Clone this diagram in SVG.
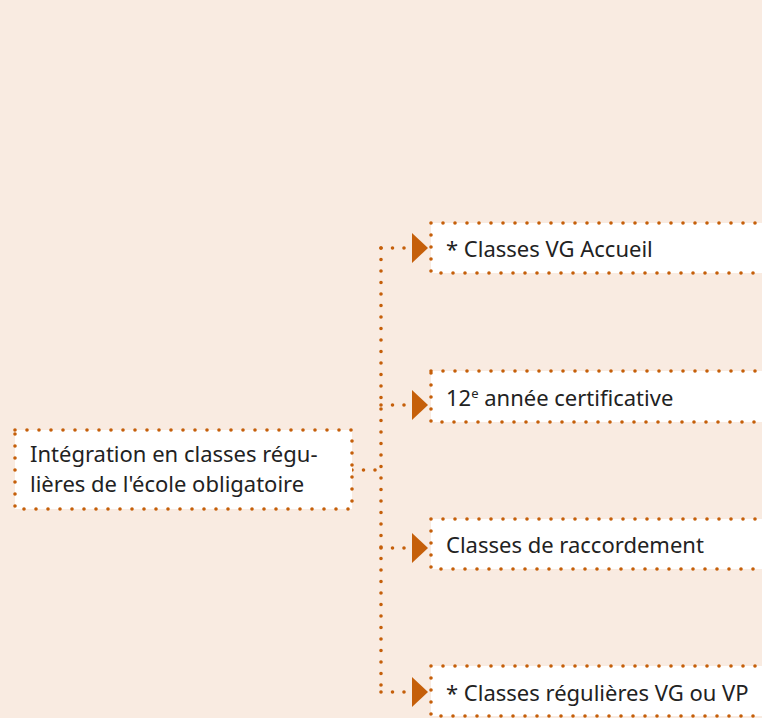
<svg xmlns="http://www.w3.org/2000/svg" width="762" height="718" viewBox="0 0 762 718">
<defs>
<style>
.box{fill:#ffffff;stroke:#c55f0a;stroke-width:3.6;stroke-dasharray:0 12;stroke-linecap:round}
.con{fill:none;stroke:#c55f0a;stroke-width:3.6;stroke-dasharray:0 11.5;stroke-linecap:round}
.t{font-family:"Noto Sans","Open Sans","Liberation Sans",sans-serif;font-size:22px;font-weight:400;fill:#222222}
.sup{font-size:13px}
</style>
<marker id="arr" viewBox="0 0 16 30" refX="0" refY="15" markerWidth="16" markerHeight="30" markerUnits="userSpaceOnUse" orient="auto">
<path d="M0,0 L16,15 L0,30 Z" fill="#c55f0a"/>
</marker>
</defs>
<rect x="0" y="0" width="762" height="718" fill="#f9ebe1"/>
<g id="connectors">
<path class="con" d="M352,470 L381,470"/>
<path class="con" d="M381,248 L381,692"/>
<path class="con" d="M381,248 L412,248" marker-end="url(#arr)"/>
<path class="con" d="M381,405 L412,405" marker-end="url(#arr)"/>
<path class="con" d="M381,548 L412,548" marker-end="url(#arr)"/>
<path class="con" d="M381,692 L412,692" marker-end="url(#arr)"/>
</g>
<g id="source">
<rect class="box" x="15" y="430" width="337" height="79"/>
<text class="t" x="30" y="462">Intégration en classes régu-</text>
<text class="t" x="30" y="492">lières de l'école obligatoire</text>
</g>
<g id="n1">
<rect class="box" x="431" y="223" width="340" height="50"/>
<text class="t" x="446" y="257">* Classes VG Accueil</text>
</g>
<g id="n2">
<rect class="box" x="431" y="371" width="340" height="51"/>
<text class="t" x="446" y="406">12<tspan class="sup" dy="-8">e</tspan><tspan dy="8"> année certificative</tspan></text>
</g>
<g id="n3">
<rect class="box" x="431" y="519" width="340" height="50"/>
<text class="t" x="446" y="553">Classes de raccordement</text>
</g>
<g id="n4">
<rect class="box" x="431" y="666" width="340" height="50"/>
<text class="t" x="446" y="701">* Classes régulières VG ou VP</text>
</g>
</svg>
